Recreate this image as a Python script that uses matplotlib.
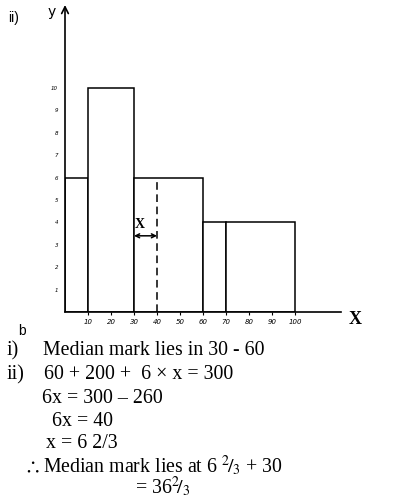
import matplotlib
matplotlib.use("Agg")
import matplotlib.pyplot as plt

plt.rcParams['mathtext.fontset'] = 'stix'

# histogram data (class boundaries and heights)
edges = [0, 10, 30, 60, 70, 100]
heights = [6, 10, 6, 4, 4]
x_ticks = [10, 20, 30, 40, 50, 60, 70, 80, 90, 100]
y_ticks = [1, 2, 3, 4, 5, 6, 7, 8, 9, 10]
median_line = 40
median_height = 6
x_arrow = (30, 40)
arrow_y = 3.4

lines = [
    ("i)", "Median mark lies in 30 - 60"),
    ("ii)", "60 + 200 +  6 \u00d7 x = 300"),
    ("", "6x = 300 \u2013 260"),
    ("", "6x = 40"),
    ("", "x = 6 2/3"),
    ("$\\therefore$", "Median mark lies at 6 $^{2}\\!/_{3}$ + 30"),
    ("", "= 36$^{2}\\!/_{3}$"),
]

fig = plt.figure(figsize=(4.13, 5), dpi=100)
ax = fig.add_axes([65 / 413, 1 - 312 / 500, 276 / 413, 307 / 500])
ax.set_xlim(0, 120)
ax.set_ylim(0, 13.7)

widths = [edges[i + 1] - edges[i] for i in range(len(heights))]
ax.bar(edges[:-1], heights, width=widths, align='edge', facecolor='white',
       edgecolor='black', linewidth=1.1, zorder=2)

# dashed line for the median and the x arrow
ax.plot([median_line, median_line], [0, median_height], color='black',
        linestyle=(0, (5, 3)), linewidth=1.1, zorder=3)
ax.annotate('', xy=(x_arrow[1], arrow_y), xytext=(x_arrow[0], arrow_y),
            arrowprops=dict(arrowstyle='<->', color='black', lw=1.1,
                            shrinkA=0, shrinkB=0, mutation_scale=7), zorder=4)
ax.text(x_arrow[0] + 0.3, arrow_y + 0.2, 'X', fontsize=10, fontweight='bold',
        family='Liberation Serif', ha='left', va='bottom')

# axes
for s in ['top', 'right']:
    ax.spines[s].set_visible(False)
ax.spines['left'].set_visible(False)
ax.spines['bottom'].set_linewidth(1.2)
ax.annotate('', xy=(0, 1.0), xycoords='axes fraction', xytext=(0, 0),
            arrowprops=dict(arrowstyle='->', color='black', lw=1.2,
                            shrinkA=0, shrinkB=0, mutation_scale=12))

ax.set_xticks(x_ticks)
ax.set_xticklabels([str(t) for t in x_ticks], fontsize=5, style='italic')
ax.set_yticks(y_ticks)
ax.set_yticklabels([str(t) for t in y_ticks], fontsize=4, style='italic')
ax.tick_params(axis='x', length=2, width=0.8, pad=3)
ax.tick_params(axis='y', length=0, pad=5)

fig.text(355 / 413, 1 - 320 / 500, 'X', fontsize=13, fontweight='bold',
         family='Liberation Serif', ha='center', va='center')
fig.text(52 / 413, 1 - 12 / 500, 'y', fontsize=10, ha='center', va='center')
fig.text(8 / 413, 1 - 18 / 500, 'ii)', fontsize=10, family='Liberation Sans',
         ha='left', va='center')
fig.text(18 / 413, 1 - 331 / 500, 'b', fontsize=10, family='Liberation Sans',
         ha='left', va='center')

# worked solution below the chart (baseline positions in pixels)
ys = [355, 379, 403, 426, 448, 472, 493]
xs = [43, 44, 42, 52, 46, 43, 135]
lab_x = [7, 7, 7, 7, 7, 24, 7]
for (lab, txt), y, x, lx in zip(lines, ys, xs, lab_x):
    if lab:
        fig.text(lx / 413, 1 - y / 500, lab, fontsize=14.3,
                 family=['Liberation Serif', 'DejaVu Serif'], ha='left', va='baseline')
    fig.text(x / 413, 1 - y / 500, txt, fontsize=14.3,
             family=['Liberation Serif', 'DejaVu Serif'], ha='left', va='baseline')

fig.savefig('out.png', dpi=100)
